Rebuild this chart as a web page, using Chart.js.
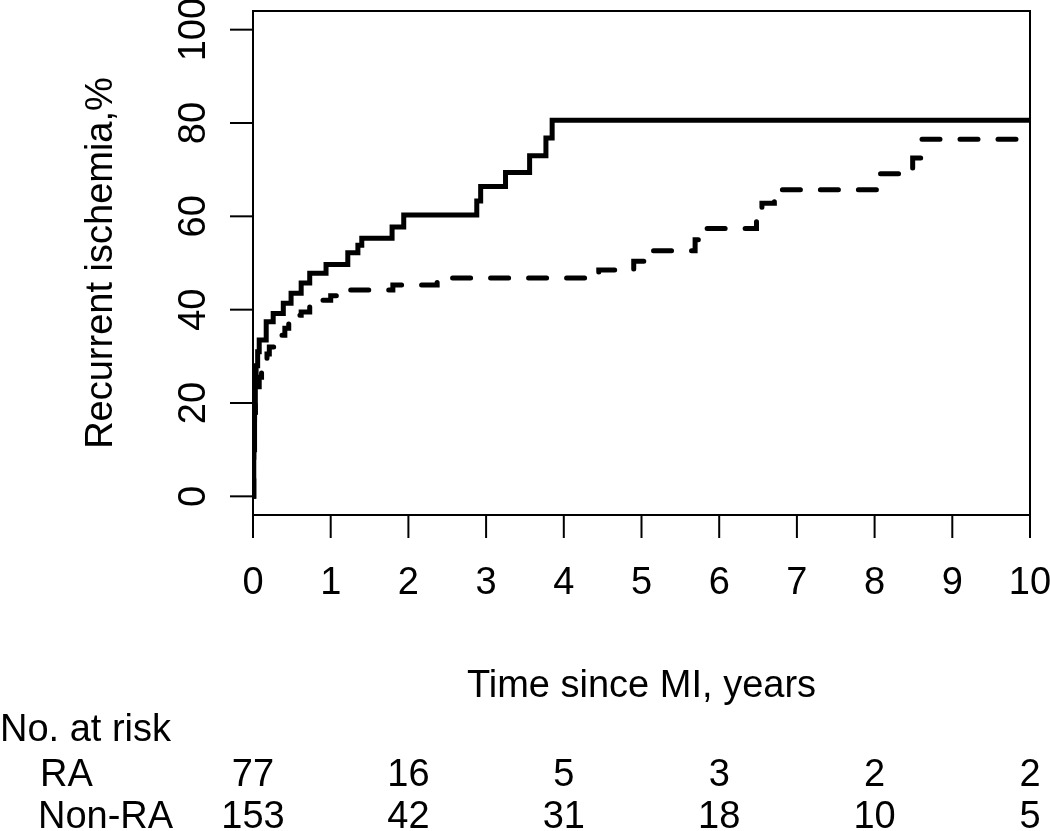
<!DOCTYPE html>
<html>
<head>
<meta charset="utf-8">
<script src="https://cdn.jsdelivr.net/npm/chart.js@4.4.0/dist/chart.umd.min.js"></script>
<style>
  body { margin: 0; background: #fff; }
  #wrap { width: 1050px; height: 831px; }
</style>
</head>
<body>
<div id="wrap"><canvas id="canvas" width="1050" height="831"></canvas></div>
<script>
/* RA - solid line */
var raTimes = [0, 0.01, 0.02, 0.03, 0.04, 0.06, 0.08, 0.17, 0.26, 0.39, 0.49, 0.62, 0.73, 0.94, 1.22, 1.35, 1.40, 1.79, 1.94, 2.88, 2.93, 3.25, 3.56, 3.77, 3.85, 10];
var raValues = [0, 10, 18, 24, 28, 31, 33.5, 37.4, 39.2, 41.4, 43.5, 45.7, 47.8, 49.7, 52.2, 53.8, 55.3, 57.7, 60.3, 63.3, 66.4, 69.4, 73.0, 76.8, 80.6, 80.6];

/* Non-RA - dashed line */
var nonRaTimes = [0, 0.01, 0.02, 0.03, 0.05, 0.08, 0.11, 0.14, 0.18, 0.21, 0.27, 0.36, 0.41, 0.46, 0.55, 0.62, 0.73, 0.9, 1.0, 1.1, 1.25, 1.8, 2.37, 4.45, 4.9, 5.12, 5.69, 5.78, 6.48, 6.55, 6.71, 8.05, 8.49, 8.61, 10];
var nonRaValues = [0, 12, 18, 21, 23.5, 25.5, 27, 28.8, 30.5, 32, 33, 34.5, 36, 37.5, 38.8, 39.5, 40.6, 42, 43, 43.6, 44.2, 45.3, 46.8, 48.5, 50.4, 52.6, 55, 57.4, 60, 62.8, 65.7, 69.1, 72.5, 76.5, 76.5];

var xTicks = [0, 1, 2, 3, 4, 5, 6, 7, 8, 9, 10];
var yTicks = [0, 20, 40, 60, 80, 100];

/* number at risk table */
var riskTimes = [0, 2, 4, 6, 8, 10];
var riskGroups = ["RA", "Non-RA"];
var riskRA = [77, 16, 5, 3, 2, 2];
var riskNonRA = [153, 42, 31, 18, 10, 5];

var xTitle = "Time since MI, years";
var yTitle = "Recurrent ischemia,%";

function toPoints(times, values) {
    var pts = [];
    for (var i = 0; i < times.length; i++) {
        pts.push({ x: times[i], y: values[i] });
    }
    return pts;
}

var font = "38px 'Liberation Sans', Arial, Helvetica, sans-serif";

var axesPlugin = {
    id: 'rAxes',
    afterDraw: function (chart) {
        var ctx = chart.ctx;
        var area = chart.chartArea;
        var xs = chart.scales.x;
        var ys = chart.scales.y;
        ctx.save();
        ctx.strokeStyle = '#000';
        ctx.fillStyle = '#000';
        ctx.lineWidth = 2;
        ctx.strokeRect(area.left, area.top, area.right - area.left, area.bottom - area.top);

        ctx.font = font;

        /* y axis */
        for (var i = 0; i < yTicks.length; i++) {
            var py = ys.getPixelForValue(yTicks[i]);
            ctx.beginPath();
            ctx.moveTo(area.left, py);
            ctx.lineTo(area.left - 23, py);
            ctx.stroke();
            ctx.save();
            ctx.translate(205, py);
            ctx.rotate(-Math.PI / 2);
            ctx.textAlign = 'center';
            ctx.textBaseline = 'alphabetic';
            ctx.fillText(String(yTicks[i]), 0, 0);
            ctx.restore();
        }
        ctx.save();
        ctx.translate(112, (area.top + area.bottom) / 2);
        ctx.rotate(-Math.PI / 2);
        ctx.textAlign = 'center';
        ctx.fillText(yTitle, 0, 0);
        ctx.restore();

        /* x axis */
        ctx.textAlign = 'center';
        ctx.textBaseline = 'alphabetic';
        for (var j = 0; j < xTicks.length; j++) {
            var px = xs.getPixelForValue(xTicks[j]);
            ctx.beginPath();
            ctx.moveTo(px, area.bottom);
            ctx.lineTo(px, area.bottom + 23);
            ctx.stroke();
            ctx.fillText(String(xTicks[j]), px, 594);
        }
        ctx.fillText(xTitle, (area.left + area.right) / 2, 697);

        /* at risk table */
        ctx.textAlign = 'left';
        ctx.fillText("No. at risk", 0, 741);
        ctx.fillText(riskGroups[0], 40, 786);
        ctx.fillText(riskGroups[1], 38, 828);
        ctx.textAlign = 'center';
        for (var k = 0; k < riskTimes.length; k++) {
            var rx = xs.getPixelForValue(riskTimes[k]);
            ctx.fillText(String(riskRA[k]), rx, 786);
            ctx.fillText(String(riskNonRA[k]), rx, 828);
        }
        ctx.restore();
    }
};

var ctx = document.getElementById("canvas").getContext("2d");

var canvas = new Chart(ctx, {
    type: 'line',
    data: {
        datasets: [
            {
                label: 'Non-RA',
                data: toPoints(nonRaTimes, nonRaValues),
                borderColor: '#000',
                borderWidth: 5,
                borderDash: [18, 20],
                borderCapStyle: 'round',
                stepped: true,
                pointRadius: 0,
                fill: false
            },
            {
                label: 'RA',
                data: toPoints(raTimes, raValues),
                borderColor: '#000',
                borderWidth: 5,
                stepped: true,
                pointRadius: 0,
                fill: false
            }]
    },
    options: {
        responsive: false,
        animation: false,
        devicePixelRatio: 1,
        layout: { padding: { left: 253, right: 20, top: 11, bottom: 316 } },
        plugins: { legend: { display: false }, tooltip: { enabled: false } },
        scales: {
            x: { type: 'linear', min: 0, max: 10, display: false },
            y: { type: 'linear', min: -4, max: 104, display: false }
        }
    },
    plugins: [axesPlugin]
});
</script>
</body>
</html>
